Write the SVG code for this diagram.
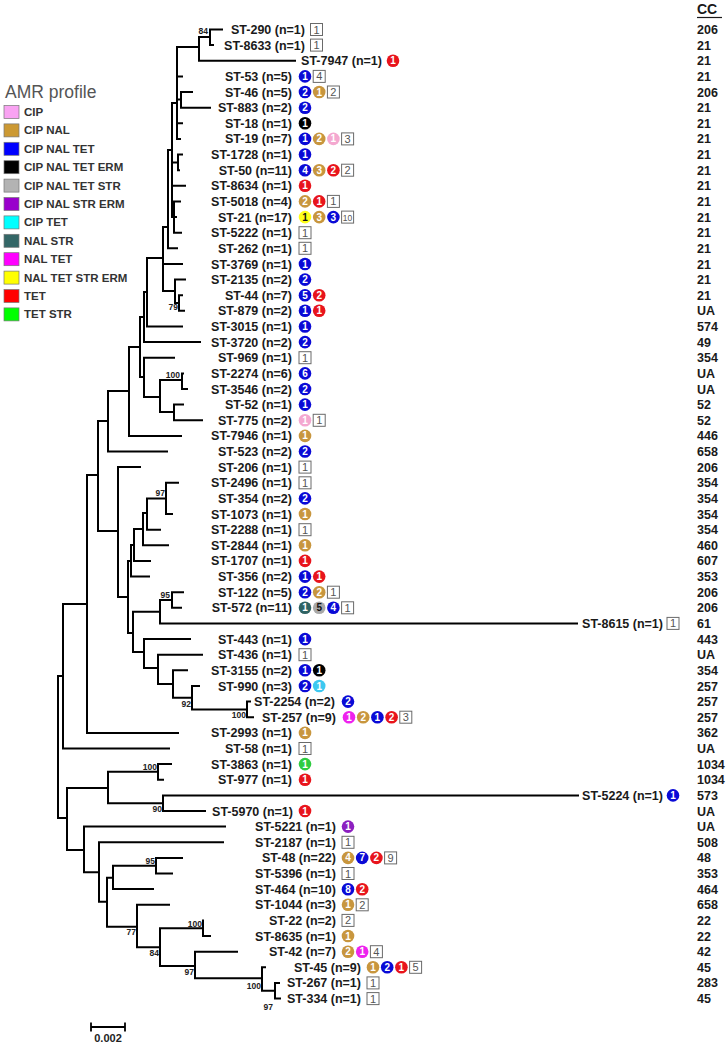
<svg xmlns="http://www.w3.org/2000/svg" width="726" height="1043" viewBox="0 0 726 1043">
<style>
.t{font-family:"Liberation Sans",Arial,sans-serif;font-weight:bold;font-size:12.5px;fill:#1a1a1a;text-anchor:end}
.cc{font-family:"Liberation Sans",Arial,sans-serif;font-weight:bold;font-size:12.5px;fill:#1a1a1a}
.bs{font-family:"Liberation Sans",Arial,sans-serif;font-weight:bold;font-size:8.5px;fill:#222;text-anchor:end}
.n{font-family:"Liberation Sans",Arial,sans-serif;font-weight:bold;font-size:10px;fill:#fff;text-anchor:middle}
.nd{font-family:"Liberation Sans",Arial,sans-serif;font-weight:bold;font-size:10px;fill:#111;text-anchor:middle}
.bx{fill:#fff;stroke:#6a6a6a;stroke-width:1}
.bn{font-family:"Liberation Sans",Arial,sans-serif;font-size:11px;fill:#555;text-anchor:middle}
.lg{font-family:"Liberation Sans",Arial,sans-serif;font-weight:bold;font-size:11.5px;fill:#333}
.sw{stroke:#777;stroke-width:0.7}
.tree{fill:none;stroke:#000;stroke-width:2;stroke-linecap:square}
.cB{fill:#0a0ad6}.cT{fill:#c8963e}.cR{fill:#e8141c}.cP{fill:#f4a8d0}.cK{fill:#000}.cY{fill:#ffff1a}.cG{fill:#a8a8a8}.cS{fill:#2f6363}.cC{fill:#3cc8f0}.cM{fill:#ee22ee}.cN{fill:#2ecc40}.cU{fill:#8c1fc0}
</style>

<g id="legend">
<text x="5" y="98" style="font-family:'Liberation Sans',Arial,sans-serif;font-size:17.5px;fill:#555">AMR profile</text>
<rect class="sw" x="4" y="105.5" width="15" height="13" fill="#f9a3f2"/><text class="lg" x="24" y="116">CIP</text>
<rect class="sw" x="4" y="123.9" width="15" height="13" fill="#cc9933"/><text class="lg" x="24" y="134.4">CIP NAL</text>
<rect class="sw" x="4" y="142.3" width="15" height="13" fill="#0000ff"/><text class="lg" x="24" y="152.8">CIP NAL TET</text>
<rect class="sw" x="4" y="160.7" width="15" height="13" fill="#000000"/><text class="lg" x="24" y="171.2">CIP NAL TET ERM</text>
<rect class="sw" x="4" y="179.1" width="15" height="13" fill="#b3b3b3"/><text class="lg" x="24" y="189.6">CIP NAL TET STR</text>
<rect class="sw" x="4" y="197.5" width="15" height="13" fill="#9900cc"/><text class="lg" x="24" y="208">CIP NAL STR ERM</text>
<rect class="sw" x="4" y="215.9" width="15" height="13" fill="#00ffff"/><text class="lg" x="24" y="226.4">CIP TET</text>
<rect class="sw" x="4" y="234.3" width="15" height="13" fill="#336666"/><text class="lg" x="24" y="244.8">NAL STR</text>
<rect class="sw" x="4" y="252.7" width="15" height="13" fill="#ff00ff"/><text class="lg" x="24" y="263.2">NAL TET</text>
<rect class="sw" x="4" y="271.1" width="15" height="13" fill="#ffff00"/><text class="lg" x="24" y="281.6">NAL TET STR ERM</text>
<rect class="sw" x="4" y="289.5" width="15" height="13" fill="#ff0000"/><text class="lg" x="24" y="300">TET</text>
<rect class="sw" x="4" y="307.9" width="15" height="13" fill="#00ff00"/><text class="lg" x="24" y="318.4">TET STR</text>
</g>

<g id="connectors">
<path class="tree" d="M58,676V818M58,676H63M58,818H67
M63,604V748.5M63,748.5H169M63,604H87
M87,475V733M87,733H178M87,475H98
M98,421V531M98,421H108M98,531H118
M108,391V451.5M108,451.5H167M108,391H129
M129,347V436M129,436H181M129,347H140
M140,317V377M140,317H144M140,377H144
M144,357.7V397M144,357.7H174M144,397H160
M160,380V412M160,380H182M160,412H174
M182,373.4V389M182,373.4H183M182,389H187
M174,404.6V420.3M174,404.6H183M174,420.3H202
M144,292V342.1M144,342.1H200M144,292H147
M147,258V326.5M147,326.5H182M147,258H163
M163,227V291M163,227H168M163,263.9H182M163,291H175
M175,279.6V303M175,279.6H185M175,303H179
M179,295.2V310.8M179,295.2H182M179,310.8H184
M168,150V248.3M168,150H172M168,248.3H177
M172,103V217M172,103H177M172,162.4H178M172,185.8H185M172,217H174
M174,201.4V232.7M174,201.4H180M174,217.1H176M174,232.7H181
M178,154.5V170.2M178,154.5H182M178,170.2H179
M177,47V138.9M177,47H199M177,76.4H182M177,99.5H181M177,123.3H182M177,138.9H180
M181,92V107.7M181,92H192M181,107.7H210
M199,37V60.8M199,37H210M199,60.8H295
M210,29.5V45.1M210,29.5H222M210,45.1H213
M118,467.1V597M118,467.1H140M118,597H128
M128,561V633M128,561H131M128,633H133
M131,545V576.6M131,545H134M131,576.6H149
M134,529V560.9M134,529H143M134,560.9H150
M143,513V545.3M143,513H147M143,545.3H168
M147,498.4V529.7M147,498.4H166M147,529.7H160
M166,482.8V514M166,482.8H178M166,514H172
M133,611.7V652M133,611.7H160M133,652H144
M160,600V623.4M160,600H172M160,623.4H577
M172,592.2V607.8M172,592.2H183M172,607.8H181
M144,639.1V668M144,639.1H190M144,668H158
M158,654.7V684M158,654.7H202M158,684H173
M173,670.3V697.7M173,670.3H187M173,697.7H192
M192,686V709.4M192,686H199M192,709.4H247
M247,701.6V717.2M247,701.6H250M247,717.2H253
M67,788V850M67,788H108M67,850H84
M108,771.7V803.3M108,771.7H158M108,803.3H163
M158,764.1V779.7M158,764.1H171M158,779.7H163
M163,795.4V811M163,795.4H578M163,811H205
M84,826.6V872.3M84,826.6H225M84,872.3H99
M99,842.3V901.7M99,842.3H223M99,901.7H107
M107,877.7V926.7M107,877.7H113M107,926.7H137
M113,865.7V889.1M113,865.7H156M113,889.1H153
M156,857.9V873.5M156,857.9H182M156,873.5H172
M137,904.8V947.3M137,904.8H169M137,947.3H160
M160,928.3V966M160,928.3H203M160,966H195
M203,920.4V936M203,936H210
M195,951.7V978.3M195,951.7H237M195,978.3H262
M262,967.3V990.7M262,967.3H265M262,990.7H275
M275,982.9V998.6M275,982.9H279M275,998.6H280"/>
</g>

<g id="bootstrap">
<text class="bs" x="208" y="34">84</text>
<text class="bs" x="178" y="310">79</text>
<text class="bs" x="180" y="378">100</text>
<text class="bs" x="165" y="496">97</text>
<text class="bs" x="170" y="598">95</text>
<text class="bs" x="191" y="707">92</text>
<text class="bs" x="246" y="718">100</text>
<text class="bs" x="157" y="770">100</text>
<text class="bs" x="162" y="812">90</text>
<text class="bs" x="155" y="864">95</text>
<text class="bs" x="136" y="935">77</text>
<text class="bs" x="159" y="956">84</text>
<text class="bs" x="202" y="927">100</text>
<text class="bs" x="194" y="975">97</text>
<text class="bs" x="261" y="989">100</text>
<text class="bs" x="273" y="1010">97</text>
</g>

<g id="cc-header">
<text x="697" y="14" style="font-family:'Liberation Sans',Arial,sans-serif;font-weight:bold;font-size:14px;fill:#1a1a1a">CC</text>
<line x1="697" y1="17.5" x2="722" y2="17.5" stroke="#1a1a1a" stroke-width="1.2"/>
</g>

<g id="ST-290"><text class="t" x="305" y="34">ST-290 (n=1)</text><rect class="bx" x="310.5" y="23.5" width="12" height="12"/><text class="bn" x="316.5" y="33.5">1</text><text class="cc" x="697" y="34">206</text></g>
<g id="ST-8633"><text class="t" x="305" y="49.6">ST-8633 (n=1)</text><rect class="bx" x="310.5" y="39.1" width="12" height="12"/><text class="bn" x="316.5" y="49.1">1</text><text class="cc" x="697" y="49.6">21</text></g>
<g id="ST-7947"><text class="t" x="382" y="65.3">ST-7947 (n=1)</text><circle class="cR" cx="393" cy="60.8" r="6.3"/><text class="n" x="393" y="64.3">1</text><text class="cc" x="697" y="65.3">21</text></g>
<g id="ST-53"><text class="t" x="292" y="80.9">ST-53 (n=5)</text><circle class="cB" cx="305" cy="76.4" r="6.3"/><text class="n" x="305" y="79.9">1</text><rect class="bx" x="313.2" y="70.4" width="12" height="12"/><text class="bn" x="319.2" y="80.4">4</text><text class="cc" x="697" y="80.9">21</text></g>
<g id="ST-46"><text class="t" x="292" y="96.5">ST-46 (n=5)</text><circle class="cB" cx="305" cy="92" r="6.3"/><text class="n" x="305" y="95.5">2</text><circle class="cT" cx="319.2" cy="92" r="6.3"/><text class="n" x="319.2" y="95.5">1</text><rect class="bx" x="327.4" y="86" width="12" height="12"/><text class="bn" x="333.4" y="96">2</text><text class="cc" x="697" y="96.5">206</text></g>
<g id="ST-883"><text class="t" x="292" y="112.2">ST-883 (n=2)</text><circle class="cB" cx="305" cy="107.7" r="6.3"/><text class="n" x="305" y="111.2">2</text><text class="cc" x="697" y="112.2">21</text></g>
<g id="ST-18"><text class="t" x="292" y="127.8">ST-18 (n=1)</text><circle class="cK" cx="305" cy="123.3" r="6.3"/><text class="n" x="305" y="126.8">1</text><text class="cc" x="697" y="127.8">21</text></g>
<g id="ST-19"><text class="t" x="292" y="143.4">ST-19 (n=7)</text><circle class="cB" cx="305" cy="138.9" r="6.3"/><text class="n" x="305" y="142.4">1</text><circle class="cT" cx="319.2" cy="138.9" r="6.3"/><text class="n" x="319.2" y="142.4">2</text><circle class="cP" cx="333.4" cy="138.9" r="6.3"/><text class="n" x="333.4" y="142.4">1</text><rect class="bx" x="341.6" y="132.9" width="12" height="12"/><text class="bn" x="347.6" y="142.9">3</text><text class="cc" x="697" y="143.4">21</text></g>
<g id="ST-1728"><text class="t" x="292" y="159">ST-1728 (n=1)</text><circle class="cB" cx="305" cy="154.5" r="6.3"/><text class="n" x="305" y="158">1</text><text class="cc" x="697" y="159">21</text></g>
<g id="ST-50"><text class="t" x="292" y="174.7">ST-50 (n=11)</text><circle class="cB" cx="305" cy="170.2" r="6.3"/><text class="n" x="305" y="173.7">4</text><circle class="cT" cx="319.2" cy="170.2" r="6.3"/><text class="n" x="319.2" y="173.7">3</text><circle class="cR" cx="333.4" cy="170.2" r="6.3"/><text class="n" x="333.4" y="173.7">2</text><rect class="bx" x="341.6" y="164.2" width="12" height="12"/><text class="bn" x="347.6" y="174.2">2</text><text class="cc" x="697" y="174.7">21</text></g>
<g id="ST-8634"><text class="t" x="292" y="190.3">ST-8634 (n=1)</text><circle class="cR" cx="305" cy="185.8" r="6.3"/><text class="n" x="305" y="189.3">1</text><text class="cc" x="697" y="190.3">21</text></g>
<g id="ST-5018"><text class="t" x="292" y="205.9">ST-5018 (n=4)</text><circle class="cT" cx="305" cy="201.4" r="6.3"/><text class="n" x="305" y="204.9">2</text><circle class="cR" cx="319.2" cy="201.4" r="6.3"/><text class="n" x="319.2" y="204.9">1</text><rect class="bx" x="327.4" y="195.4" width="12" height="12"/><text class="bn" x="333.4" y="205.4">1</text><text class="cc" x="697" y="205.9">21</text></g>
<g id="ST-21"><text class="t" x="292" y="221.6">ST-21 (n=17)</text><circle class="cY" cx="305" cy="217.1" r="6.3"/><text class="nd" x="305" y="220.6">1</text><circle class="cT" cx="319.2" cy="217.1" r="6.3"/><text class="n" x="319.2" y="220.6">3</text><circle class="cB" cx="333.4" cy="217.1" r="6.3"/><text class="n" x="333.4" y="220.6">3</text><rect class="bx" x="341.6" y="211.1" width="12" height="12"/><text class="bn" x="347.6" y="220.6" style="font-size:8.5px">10</text><text class="cc" x="697" y="221.6">21</text></g>
<g id="ST-5222"><text class="t" x="292" y="237.2">ST-5222 (n=1)</text><rect class="bx" x="299" y="226.7" width="12" height="12"/><text class="bn" x="305" y="236.7">1</text><text class="cc" x="697" y="237.2">21</text></g>
<g id="ST-262"><text class="t" x="292" y="252.8">ST-262 (n=1)</text><rect class="bx" x="299" y="242.3" width="12" height="12"/><text class="bn" x="305" y="252.3">1</text><text class="cc" x="697" y="252.8">21</text></g>
<g id="ST-3769"><text class="t" x="292" y="268.5">ST-3769 (n=1)</text><circle class="cB" cx="305" cy="264" r="6.3"/><text class="n" x="305" y="267.5">1</text><text class="cc" x="697" y="268.5">21</text></g>
<g id="ST-2135"><text class="t" x="292" y="284.1">ST-2135 (n=2)</text><circle class="cB" cx="305" cy="279.6" r="6.3"/><text class="n" x="305" y="283.1">2</text><text class="cc" x="697" y="284.1">21</text></g>
<g id="ST-44"><text class="t" x="292" y="299.7">ST-44 (n=7)</text><circle class="cB" cx="305" cy="295.2" r="6.3"/><text class="n" x="305" y="298.7">5</text><circle class="cR" cx="319.2" cy="295.2" r="6.3"/><text class="n" x="319.2" y="298.7">2</text><text class="cc" x="697" y="299.7">21</text></g>
<g id="ST-879"><text class="t" x="292" y="315.3">ST-879 (n=2)</text><circle class="cB" cx="305" cy="310.8" r="6.3"/><text class="n" x="305" y="314.3">1</text><circle class="cR" cx="319.2" cy="310.8" r="6.3"/><text class="n" x="319.2" y="314.3">1</text><text class="cc" x="697" y="315.3">UA</text></g>
<g id="ST-3015"><text class="t" x="292" y="331">ST-3015 (n=1)</text><circle class="cB" cx="305" cy="326.5" r="6.3"/><text class="n" x="305" y="330">1</text><text class="cc" x="697" y="331">574</text></g>
<g id="ST-3720"><text class="t" x="292" y="346.6">ST-3720 (n=2)</text><circle class="cB" cx="305" cy="342.1" r="6.3"/><text class="n" x="305" y="345.6">2</text><text class="cc" x="697" y="346.6">49</text></g>
<g id="ST-969"><text class="t" x="292" y="362.2">ST-969 (n=1)</text><rect class="bx" x="299" y="351.7" width="12" height="12"/><text class="bn" x="305" y="361.7">1</text><text class="cc" x="697" y="362.2">354</text></g>
<g id="ST-2274"><text class="t" x="292" y="377.9">ST-2274 (n=6)</text><circle class="cB" cx="305" cy="373.4" r="6.3"/><text class="n" x="305" y="376.9">6</text><text class="cc" x="697" y="377.9">UA</text></g>
<g id="ST-3546"><text class="t" x="292" y="393.5">ST-3546 (n=2)</text><circle class="cB" cx="305" cy="389" r="6.3"/><text class="n" x="305" y="392.5">2</text><text class="cc" x="697" y="393.5">UA</text></g>
<g id="ST-52"><text class="t" x="292" y="409.1">ST-52 (n=1)</text><circle class="cB" cx="305" cy="404.6" r="6.3"/><text class="n" x="305" y="408.1">1</text><text class="cc" x="697" y="409.1">52</text></g>
<g id="ST-775"><text class="t" x="292" y="424.8">ST-775 (n=2)</text><circle class="cP" cx="305" cy="420.3" r="6.3"/><text class="n" x="305" y="423.8">1</text><rect class="bx" x="313.2" y="414.3" width="12" height="12"/><text class="bn" x="319.2" y="424.3">1</text><text class="cc" x="697" y="424.8">52</text></g>
<g id="ST-7946"><text class="t" x="292" y="440.4">ST-7946 (n=1)</text><circle class="cT" cx="305" cy="435.9" r="6.3"/><text class="n" x="305" y="439.4">1</text><text class="cc" x="697" y="440.4">446</text></g>
<g id="ST-523"><text class="t" x="292" y="456">ST-523 (n=2)</text><circle class="cB" cx="305" cy="451.5" r="6.3"/><text class="n" x="305" y="455">2</text><text class="cc" x="697" y="456">658</text></g>
<g id="ST-206"><text class="t" x="292" y="471.6">ST-206 (n=1)</text><rect class="bx" x="299" y="461.1" width="12" height="12"/><text class="bn" x="305" y="471.1">1</text><text class="cc" x="697" y="471.6">206</text></g>
<g id="ST-2496"><text class="t" x="292" y="487.3">ST-2496 (n=1)</text><rect class="bx" x="299" y="476.8" width="12" height="12"/><text class="bn" x="305" y="486.8">1</text><text class="cc" x="697" y="487.3">354</text></g>
<g id="ST-354"><text class="t" x="292" y="502.9">ST-354 (n=2)</text><circle class="cB" cx="305" cy="498.4" r="6.3"/><text class="n" x="305" y="501.9">2</text><text class="cc" x="697" y="502.9">354</text></g>
<g id="ST-1073"><text class="t" x="292" y="518.5">ST-1073 (n=1)</text><circle class="cT" cx="305" cy="514" r="6.3"/><text class="n" x="305" y="517.5">1</text><text class="cc" x="697" y="518.5">354</text></g>
<g id="ST-2288"><text class="t" x="292" y="534.2">ST-2288 (n=1)</text><rect class="bx" x="299" y="523.7" width="12" height="12"/><text class="bn" x="305" y="533.7">1</text><text class="cc" x="697" y="534.2">354</text></g>
<g id="ST-2844"><text class="t" x="292" y="549.8">ST-2844 (n=1)</text><circle class="cT" cx="305" cy="545.3" r="6.3"/><text class="n" x="305" y="548.8">1</text><text class="cc" x="697" y="549.8">460</text></g>
<g id="ST-1707"><text class="t" x="292" y="565.4">ST-1707 (n=1)</text><circle class="cR" cx="305" cy="560.9" r="6.3"/><text class="n" x="305" y="564.4">1</text><text class="cc" x="697" y="565.4">607</text></g>
<g id="ST-356"><text class="t" x="292" y="581.1">ST-356 (n=2)</text><circle class="cB" cx="305" cy="576.6" r="6.3"/><text class="n" x="305" y="580.1">1</text><circle class="cR" cx="319.2" cy="576.6" r="6.3"/><text class="n" x="319.2" y="580.1">1</text><text class="cc" x="697" y="581.1">353</text></g>
<g id="ST-122"><text class="t" x="292" y="596.7">ST-122 (n=5)</text><circle class="cB" cx="305" cy="592.2" r="6.3"/><text class="n" x="305" y="595.7">2</text><circle class="cT" cx="319.2" cy="592.2" r="6.3"/><text class="n" x="319.2" y="595.7">2</text><rect class="bx" x="327.4" y="586.2" width="12" height="12"/><text class="bn" x="333.4" y="596.2">1</text><text class="cc" x="697" y="596.7">206</text></g>
<g id="ST-572"><text class="t" x="292" y="612.3">ST-572 (n=11)</text><circle class="cS" cx="305" cy="607.8" r="6.3"/><text class="n" x="305" y="611.3">1</text><circle class="cG" cx="319.2" cy="607.8" r="6.3"/><text class="nd" x="319.2" y="611.3">5</text><circle class="cB" cx="333.4" cy="607.8" r="6.3"/><text class="n" x="333.4" y="611.3">4</text><rect class="bx" x="341.6" y="601.8" width="12" height="12"/><text class="bn" x="347.6" y="611.8">1</text><text class="cc" x="697" y="612.3">206</text></g>
<g id="ST-8615"><text class="t" x="663" y="627.9">ST-8615 (n=1)</text><rect class="bx" x="667" y="617.4" width="12" height="12"/><text class="bn" x="673" y="627.4">1</text><text class="cc" x="697" y="627.9">61</text></g>
<g id="ST-443"><text class="t" x="292" y="643.6">ST-443 (n=1)</text><circle class="cB" cx="305" cy="639.1" r="6.3"/><text class="n" x="305" y="642.6">1</text><text class="cc" x="697" y="643.6">443</text></g>
<g id="ST-436"><text class="t" x="292" y="659.2">ST-436 (n=1)</text><rect class="bx" x="299" y="648.7" width="12" height="12"/><text class="bn" x="305" y="658.7">1</text><text class="cc" x="697" y="659.2">UA</text></g>
<g id="ST-3155"><text class="t" x="292" y="674.8">ST-3155 (n=2)</text><circle class="cB" cx="305" cy="670.3" r="6.3"/><text class="n" x="305" y="673.8">1</text><circle class="cK" cx="319.2" cy="670.3" r="6.3"/><text class="n" x="319.2" y="673.8">1</text><text class="cc" x="697" y="674.8">354</text></g>
<g id="ST-990"><text class="t" x="292" y="690.5">ST-990 (n=3)</text><circle class="cB" cx="305" cy="686" r="6.3"/><text class="n" x="305" y="689.5">2</text><circle class="cC" cx="319.2" cy="686" r="6.3"/><text class="n" x="319.2" y="689.5">1</text><text class="cc" x="697" y="690.5">257</text></g>
<g id="ST-2254"><text class="t" x="335" y="706.1">ST-2254 (n=2)</text><circle class="cB" cx="348" cy="701.6" r="6.3"/><text class="n" x="348" y="705.1">2</text><text class="cc" x="697" y="706.1">257</text></g>
<g id="ST-257"><text class="t" x="336" y="721.7">ST-257 (n=9)</text><circle class="cM" cx="349" cy="717.2" r="6.3"/><text class="n" x="349" y="720.7">1</text><circle class="cT" cx="363.2" cy="717.2" r="6.3"/><text class="n" x="363.2" y="720.7">2</text><circle class="cB" cx="377.4" cy="717.2" r="6.3"/><text class="n" x="377.4" y="720.7">1</text><circle class="cR" cx="391.6" cy="717.2" r="6.3"/><text class="n" x="391.6" y="720.7">2</text><rect class="bx" x="399.8" y="711.2" width="12" height="12"/><text class="bn" x="405.8" y="721.2">3</text><text class="cc" x="697" y="721.7">257</text></g>
<g id="ST-2993"><text class="t" x="292" y="737.4">ST-2993 (n=1)</text><circle class="cT" cx="305" cy="732.9" r="6.3"/><text class="n" x="305" y="736.4">1</text><text class="cc" x="697" y="737.4">362</text></g>
<g id="ST-58"><text class="t" x="292" y="753">ST-58 (n=1)</text><rect class="bx" x="299" y="742.5" width="12" height="12"/><text class="bn" x="305" y="752.5">1</text><text class="cc" x="697" y="753">UA</text></g>
<g id="ST-3863"><text class="t" x="292" y="768.6">ST-3863 (n=1)</text><circle class="cN" cx="305" cy="764.1" r="6.3"/><text class="n" x="305" y="767.6">1</text><text class="cc" x="697" y="768.6">1034</text></g>
<g id="ST-977"><text class="t" x="292" y="784.2">ST-977 (n=1)</text><circle class="cR" cx="305" cy="779.7" r="6.3"/><text class="n" x="305" y="783.2">1</text><text class="cc" x="697" y="784.2">1034</text></g>
<g id="ST-5224"><text class="t" x="663" y="799.9">ST-5224 (n=1)</text><circle class="cB" cx="673" cy="795.4" r="6.3"/><text class="n" x="673" y="798.9">1</text><text class="cc" x="697" y="799.9">573</text></g>
<g id="ST-5970"><text class="t" x="293" y="815.5">ST-5970 (n=1)</text><circle class="cR" cx="305" cy="811" r="6.3"/><text class="n" x="305" y="814.5">1</text><text class="cc" x="697" y="815.5">UA</text></g>
<g id="ST-5221"><text class="t" x="336" y="831.1">ST-5221 (n=1)</text><circle class="cU" cx="348" cy="826.6" r="6.3"/><text class="n" x="348" y="830.1">1</text><text class="cc" x="697" y="831.1">UA</text></g>
<g id="ST-2187"><text class="t" x="336" y="846.8">ST-2187 (n=1)</text><rect class="bx" x="342" y="836.3" width="12" height="12"/><text class="bn" x="348" y="846.3">1</text><text class="cc" x="697" y="846.8">508</text></g>
<g id="ST-48"><text class="t" x="336" y="862.4">ST-48 (n=22)</text><circle class="cT" cx="348" cy="857.9" r="6.3"/><text class="n" x="348" y="861.4">4</text><circle class="cB" cx="362.2" cy="857.9" r="6.3"/><text class="n" x="362.2" y="861.4">7</text><circle class="cR" cx="376.4" cy="857.9" r="6.3"/><text class="n" x="376.4" y="861.4">2</text><rect class="bx" x="384.6" y="851.9" width="12" height="12"/><text class="bn" x="390.6" y="861.9">9</text><text class="cc" x="697" y="862.4">48</text></g>
<g id="ST-5396"><text class="t" x="336" y="878">ST-5396 (n=1)</text><rect class="bx" x="342" y="867.5" width="12" height="12"/><text class="bn" x="348" y="877.5">1</text><text class="cc" x="697" y="878">353</text></g>
<g id="ST-464"><text class="t" x="336" y="893.7">ST-464 (n=10)</text><circle class="cB" cx="348" cy="889.2" r="6.3"/><text class="n" x="348" y="892.7">8</text><circle class="cR" cx="362.2" cy="889.2" r="6.3"/><text class="n" x="362.2" y="892.7">2</text><text class="cc" x="697" y="893.7">464</text></g>
<g id="ST-1044"><text class="t" x="336" y="909.3">ST-1044 (n=3)</text><circle class="cT" cx="348" cy="904.8" r="6.3"/><text class="n" x="348" y="908.3">1</text><rect class="bx" x="356.2" y="898.8" width="12" height="12"/><text class="bn" x="362.2" y="908.8">2</text><text class="cc" x="697" y="909.3">658</text></g>
<g id="ST-22"><text class="t" x="336" y="924.9">ST-22 (n=2)</text><rect class="bx" x="342" y="914.4" width="12" height="12"/><text class="bn" x="348" y="924.4">2</text><text class="cc" x="697" y="924.9">22</text></g>
<g id="ST-8635"><text class="t" x="336" y="940.5">ST-8635 (n=1)</text><circle class="cT" cx="348" cy="936" r="6.3"/><text class="n" x="348" y="939.5">1</text><text class="cc" x="697" y="940.5">22</text></g>
<g id="ST-42"><text class="t" x="336" y="956.2">ST-42 (n=7)</text><circle class="cT" cx="348" cy="951.7" r="6.3"/><text class="n" x="348" y="955.2">2</text><circle class="cM" cx="362.2" cy="951.7" r="6.3"/><text class="n" x="362.2" y="955.2">1</text><rect class="bx" x="370.4" y="945.7" width="12" height="12"/><text class="bn" x="376.4" y="955.7">4</text><text class="cc" x="697" y="956.2">42</text></g>
<g id="ST-45"><text class="t" x="361" y="971.8">ST-45 (n=9)</text><circle class="cT" cx="373" cy="967.3" r="6.3"/><text class="n" x="373" y="970.8">1</text><circle class="cB" cx="387.2" cy="967.3" r="6.3"/><text class="n" x="387.2" y="970.8">2</text><circle class="cR" cx="401.4" cy="967.3" r="6.3"/><text class="n" x="401.4" y="970.8">1</text><rect class="bx" x="409.6" y="961.3" width="12" height="12"/><text class="bn" x="415.6" y="971.3">5</text><text class="cc" x="697" y="971.8">45</text></g>
<g id="ST-267"><text class="t" x="361" y="987.4">ST-267 (n=1)</text><rect class="bx" x="367" y="976.9" width="12" height="12"/><text class="bn" x="373" y="986.9">1</text><text class="cc" x="697" y="987.4">283</text></g>
<g id="ST-334"><text class="t" x="361" y="1003.1">ST-334 (n=1)</text><rect class="bx" x="367" y="992.6" width="12" height="12"/><text class="bn" x="373" y="1002.6">1</text><text class="cc" x="697" y="1003.1">45</text></g>

<g id="scale-bar">
<path class="tree" style="stroke-width:1.8" d="M91,1027H125M91,1023.5V1030.5M125,1023.5V1030.5"/>
<text x="108" y="1042" style="font-family:'Liberation Sans',Arial,sans-serif;font-weight:bold;font-size:11px;fill:#222;text-anchor:middle">0.002</text>
</g>
</svg>
